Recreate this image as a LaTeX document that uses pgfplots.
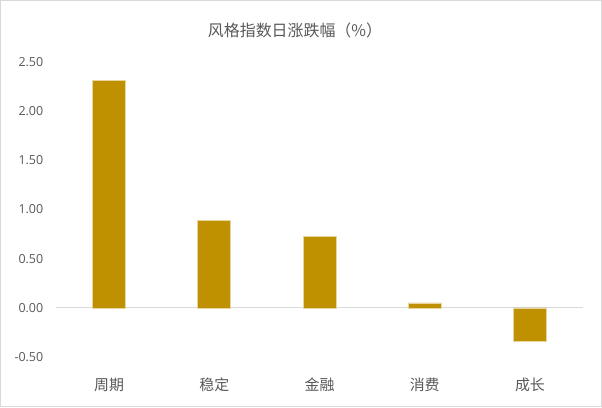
\documentclass[border=0pt]{standalone}
\usepackage{pgfplots}
\pgfplotsset{compat=1.18}
\usepackage{fontspec}
\setmainfont{Open Sans}
\newfontfamily\cjk{Noto Sans CJK SC}
\definecolor{barc}{RGB}{191,144,0}
\definecolor{txt}{RGB}{89,89,89}
\definecolor{framec}{RGB}{217,217,217}
\begin{document}
\begin{tikzpicture}[x=1bp,y=1bp]
\draw[framec, line width=1bp, fill=white] (0.5,0.5) rectangle (601.5,406.5);
\node[txt, font=\cjk\fontsize{16}{18}\selectfont] at (295,377) {风格指数日涨跌幅（\%）};
\begin{axis}[at={(56.4bp,50bp)}, anchor=south west, scale only axis,
  width=526.2bp, height=295bp,
  xmin=-0.5, xmax=4.5, ymin=-0.5, ymax=2.5,
  axis line style={draw=none}, major tick length=0pt,
  ytick={-0.5,0,0.5,1,1.5,2,2.5},
  xtick={0,1,2,3,4},
  xticklabels={周期,稳定,金融,消费,成长},
  xticklabel style={font=\cjk\fontsize{15}{17}\selectfont, text=txt, anchor=center, inner sep=0pt, yshift=-27.6bp},
  yticklabel style={font=\fontsize{12.5}{14}\selectfont, text=txt, anchor=east, inner sep=0pt, xshift=-13bp,
    /pgf/number format/fixed, /pgf/number format/fixed zerofill, /pgf/number format/precision=2},
  /pgf/number format/assume math mode=true,
  extra y ticks={0}, extra y tick labels={},
  extra y tick style={grid=major, grid style={framec, line width=1.2bp}},
  ybar, bar width=33bp,
]
\addplot[fill=barc, draw={rgb,255:red,232;green,214;blue,160}, line width=0.6bp]
  coordinates {(0,2.31) (1,0.89) (2,0.73) (3,0.05) (4,-0.34)};
\end{axis}
\end{tikzpicture}
\end{document}
